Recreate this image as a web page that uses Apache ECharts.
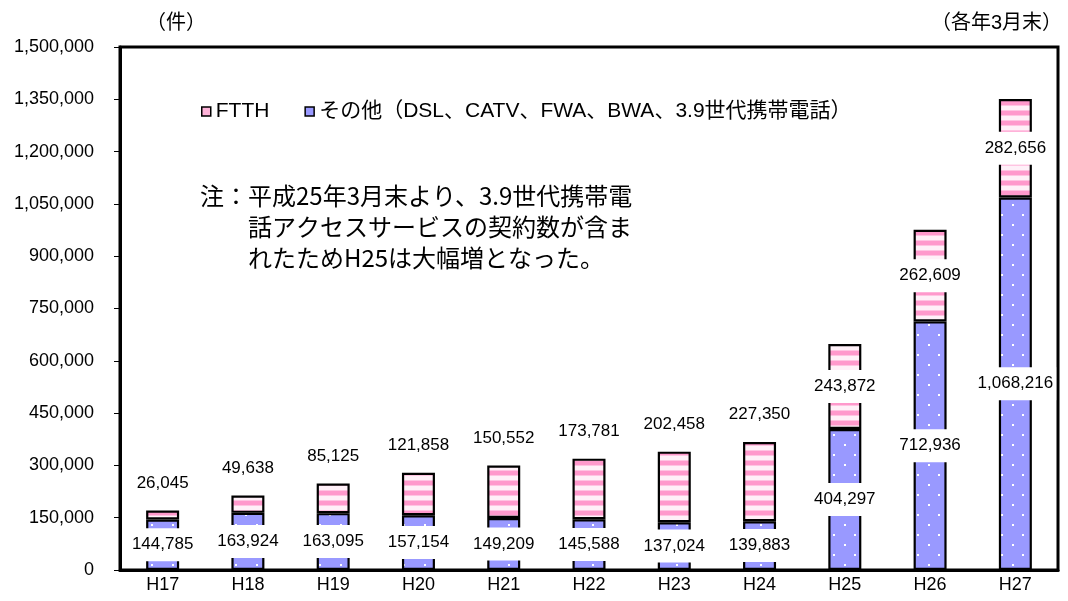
<!DOCTYPE html>
<html><head><meta charset="utf-8">
<script src="https://cdn.jsdelivr.net/npm/echarts@6/dist/echarts.min.js"></script>
<style>html,body{margin:0;padding:0;background:#fff}#c{width:1068px;height:601px}</style>
</head><body><div id="c"></div>
<script>
var categories = ['H17','H18','H19','H20','H21','H22','H23','H24','H25','H26','H27'];
var otherValues = [144785,163924,163095,157154,149209,145588,137024,139883,404297,712936,1068216];
var ftthValues = [26045,49638,85125,121858,150552,173781,202458,227350,243872,262609,282656];
var seriesNames = ['FTTH','その他（DSL、CATV、FWA、BWA、3.9世代携帯電話）'];
var noteLines = ['注：平成25年3月末より、3.9世代携帯電','話アクセスサービスの契約数が含ま','れたためH25は大幅増となった。'];

var FONT = '"Liberation Sans", "Noto Sans CJK JP", sans-serif';

function stripe(){
  var c=document.createElement('canvas');c.width=10;c.height=10;
  var g=c.getContext('2d');
  g.fillStyle='#fff';g.fillRect(0,0,10,10);
  g.fillStyle='#ffc4e2';g.fillRect(0,0,10,1);g.fillRect(0,5,10,1);
  g.fillStyle='#ff99cc';g.fillRect(0,1,10,4);
  g.fillStyle='#fff0f8';g.fillRect(0,6,10,4);
  return c;
}
function dots(){
  var c=document.createElement('canvas');c.width=21;c.height=20;
  var g=c.getContext('2d');
  g.fillStyle='#9999ff';g.fillRect(0,0,21,20);
  g.fillStyle='#ffffff';g.fillRect(4,4,2,2);g.fillRect(14,14,2,2);
  return c;
}

var chart = echarts.init(document.getElementById('c'));
var labelBase = {show:true,color:'#000',fontSize:17,fontFamily:FONT,backgroundColor:'#fff',padding:[8,3],
  formatter:function(p){return p.value.toLocaleString('en-US');}};

var ftthData = ftthValues.map(function(v,i){
  return i>=8 ? {value:v,label:{position:'inside'}} : v;
});

chart.setOption({
  animation:false,
  backgroundColor:'#fff',
  grid:{left:120,right:10,top:47,bottom:31,show:true,borderColor:'#000',borderWidth:3,backgroundColor:'transparent'},
  legend:{left:196,top:96,icon:'rect',itemWidth:9,itemHeight:9,itemGap:35,
    textStyle:{fontSize:21,fontFamily:FONT,color:'#000'},
    data:[{name:seriesNames[0],itemStyle:{color:'#ffb3d9',borderColor:'#000',borderWidth:1.5}},
          {name:seriesNames[1],itemStyle:{color:'#9999ff',borderColor:'#000',borderWidth:1.5}}]},
  xAxis:{type:'category',data:categories,
    axisLine:{lineStyle:{color:'#000',width:3}},axisTick:{show:false},
    axisLabel:{fontSize:18,fontFamily:FONT,color:'#000',margin:6}},
  yAxis:{type:'value',min:0,max:1500000,interval:150000,
    axisLine:{show:true,lineStyle:{color:'#000',width:3}},
    axisTick:{show:true,length:6,lineStyle:{color:'#000',width:1}},
    splitLine:{show:false},
    axisLabel:{fontSize:18,fontFamily:FONT,color:'#000',margin:26,
      formatter:function(v){return v.toLocaleString('en-US');}}},
  series:[
    {name:seriesNames[1],type:'bar',stack:'a',barWidth:33,data:otherValues,
      itemStyle:{color:{image:dots(),repeat:'repeat'},borderColor:'#000',borderWidth:2.2},
      label:Object.assign({},labelBase,{position:'inside'})},
    {name:seriesNames[0],type:'bar',stack:'a',barWidth:33,data:ftthData,
      itemStyle:{color:{image:stripe(),repeat:'repeat'},borderColor:'#000',borderWidth:2.2},
      label:Object.assign({},labelBase,{position:'top',distance:11})}
  ],
  graphic:[
    {type:'text',left:146,top:13,style:{text:'（件）',fontSize:20,fontFamily:FONT,fill:'#000'}},
    {type:'text',right:6,top:13,style:{text:'（各年3月末）',fontSize:20,fontFamily:FONT,fill:'#000'}},
    {type:'text',left:200,top:184,style:{text:noteLines[0],fontSize:24,fontFamily:'"Noto Sans CJK JP", sans-serif',fill:'#000'}},
    {type:'text',left:248,top:215,style:{text:noteLines[1],fontSize:24,fontFamily:'"Noto Sans CJK JP", sans-serif',fill:'#000'}},
    {type:'text',left:248,top:246,style:{text:noteLines[2],fontSize:24,fontFamily:'"Noto Sans CJK JP", sans-serif',fill:'#000'}}
  ]
});
</script></body></html>
